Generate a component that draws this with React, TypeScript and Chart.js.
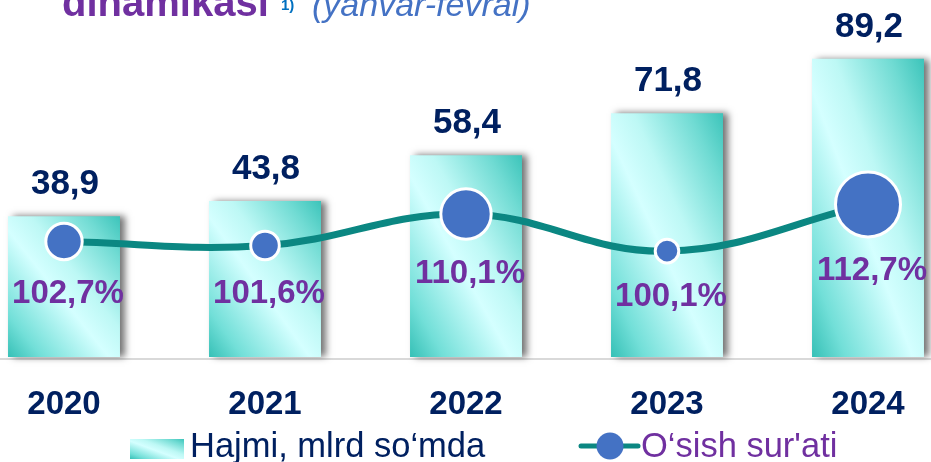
import React, { useEffect, useRef } from 'react';
import { Chart, registerables } from 'chart.js';

Chart.register(...registerables);

// ---- data ----
const years = ['2020', '2021', '2022', '2023', '2024'];
const volume = [38.9, 43.8, 58.4, 71.8, 89.2];
const growth = [102.7, 101.6, 110.1, 100.1, 112.7];
const legendLabels = ['Hajmi, mlrd so‘mda', 'O‘sish sur\'ati'];
const titleMain = 'dinamikasi';
const titleNote = '1)';
const titleSub = '(yanvar-fevral)';

const fmt = (v: number) => v.toFixed(1).replace('.', ',');

const FONT = '"Liberation Sans", Arial, Helvetica, sans-serif';
const NAVY = '#002060';
const PURPLE = '#7030A0';
const TEAL = '#0B8782';
const BLUE = '#4472C4';

const Y1_MIN = -6.04;
const Y1_MAX = 101.6;
const Y2_MIN = 71.5;
const Y2_MAX = 162.5;

function barGradient(ctx: CanvasRenderingContext2D, left: number, top: number, w: number, h: number) {
  const cx = left + w / 2;
  const cy = top + h / 2;
  const d = (w * h) / (h * h + w * w);
  const vx = h * d;
  const vy = -w * d;
  const g = ctx.createLinearGradient(cx - vx, cy - vy, cx + vx, cy + vy);
  g.addColorStop(0, '#36C0B6');
  g.addColorStop(0.15, '#72DFD8');
  g.addColorStop(0.45, '#D4FFFF');
  g.addColorStop(0.6, '#BDF8F5');
  g.addColorStop(0.85, '#70DBD3');
  g.addColorStop(1, '#3CC4BA');
  return g;
}

const overlay = {
  id: 'overlay',
  beforeDatasetsDraw(chart: any) {
    const ctx = chart.ctx as CanvasRenderingContext2D;
    const b = chart.chartArea.bottom;
    ctx.save();
    ctx.strokeStyle = '#D9D9D9';
    ctx.lineWidth = 2;
    ctx.beginPath();
    ctx.moveTo(0, b + 2);
    ctx.lineTo(chart.width, b + 2);
    ctx.stroke();
    ctx.restore();
  },
  beforeDatasetDraw(chart: any, args: any) {
    if (args.meta.type === 'bar') {
      const ctx = chart.ctx as CanvasRenderingContext2D;
      ctx.save();
      ctx.shadowColor = 'rgba(0,0,0,0.55)';
      ctx.shadowBlur = 7;
      ctx.shadowOffsetX = 5;
      ctx.shadowOffsetY = 0;
    }
  },
  afterDatasetDraw(chart: any, args: any) {
    if (args.meta.type === 'bar') chart.ctx.restore();
  },
  afterDraw(chart: any) {
    const ctx = chart.ctx as CanvasRenderingContext2D;
    const barMeta = chart.getDatasetMeta(1);
    const lineMeta = chart.getDatasetMeta(0);
    const xs = chart.scales.x;
    ctx.save();
    ctx.textAlign = 'center';
    ctx.textBaseline = 'alphabetic';

    // values above bars
    ctx.fillStyle = NAVY;
    ctx.font = `bold 35px ${FONT}`;
    barMeta.data.forEach((el: any, i: number) => {
      ctx.fillText(fmt(volume[i]), el.x + 1, el.y - 22);
    });

    // growth labels below points
    ctx.fillStyle = PURPLE;
    ctx.font = `bold 33px ${FONT}`;
    lineMeta.data.forEach((el: any, i: number) => {
      const r = (el.options.radius || 0) + 1.5;
      ctx.fillText(fmt(growth[i]) + '%', el.x + 4, el.y + r + 42);
    });

    // year labels
    ctx.fillStyle = NAVY;
    ctx.font = `bold 33px ${FONT}`;
    years.forEach((y, i) => {
      ctx.fillText(y, xs.getPixelForValue(i), 414);
    });

    // title (cut off at top)
    ctx.textAlign = 'left';
    ctx.fillStyle = PURPLE;
    ctx.font = `bold 40px ${FONT}`;
    ctx.fillText(titleMain, 62, 16);
    ctx.fillStyle = '#0070C0';
    ctx.font = `bold 15px ${FONT}`;
    ctx.fillText(titleNote, 281, 10);
    ctx.fillStyle = BLUE;
    ctx.font = `italic 34px ${FONT}`;
    ctx.fillText(titleSub, 312, 16);

    // legend
    ctx.fillStyle = barGradient(ctx, 130, 439, 54, 20);
    ctx.fillRect(130, 439, 54, 20);
    ctx.fillStyle = NAVY;
    ctx.font = `34.5px ${FONT}`;
    ctx.fillText(legendLabels[0], 190, 457);

    ctx.strokeStyle = TEAL;
    ctx.lineWidth = 5;
    ctx.lineCap = 'round';
    ctx.beginPath();
    ctx.moveTo(581, 446);
    ctx.lineTo(638, 446);
    ctx.stroke();
    ctx.fillStyle = BLUE;
    ctx.beginPath();
    ctx.arc(610, 446, 13.5, 0, Math.PI * 2);
    ctx.fill();
    ctx.fillStyle = PURPLE;
    ctx.font = `34.5px ${FONT}`;
    ctx.fillText(legendLabels[1], 641, 457);

    ctx.restore();
  },
};

export default function App() {
  const ref = useRef<HTMLCanvasElement | null>(null);

  useEffect(() => {
    if (!ref.current) return;
    const chart = new Chart(ref.current, {
      type: 'bar',
      data: {
        labels: years,
        datasets: [
          {
            type: 'line',
            label: legendLabels[1],
            data: growth,
            yAxisID: 'y2',
            order: 1,
            borderColor: TEAL,
            borderWidth: 7,
            tension: 0.4,
            pointRadius: [18.2, 14.3, 25.2, 11.8, 32.5],
            pointBackgroundColor: BLUE,
            pointBorderColor: '#FFFFFF',
            pointBorderWidth: 3,
            clip: false,
          } as any,
          {
            type: 'bar',
            label: legendLabels[0],
            data: volume,
            yAxisID: 'y',
            order: 2,
            base: Y1_MIN,
            barPercentage: 0.557,
            categoryPercentage: 1,
            borderWidth: 0,
            clip: false,
            backgroundColor: (c: any) => {
              const ch = c.chart;
              if (!ch.chartArea || c.type !== 'data') return '#7FE3DC';
              const xs = ch.scales.x;
              const ys = ch.scales.y;
              const cx = xs.getPixelForValue(c.dataIndex);
              const w = (xs.getPixelForValue(1) - xs.getPixelForValue(0)) * 0.557;
              const top = ys.getPixelForValue(c.raw);
              const bottom = ys.getPixelForValue(Y1_MIN);
              return barGradient(ch.ctx, cx - w / 2, top, w, bottom - top);
            },
          } as any,
        ],
      },
      options: {
        animation: false,
        responsive: false,
        layout: { autoPadding: false, padding: { top: 20, bottom: 105, left: 64, right: 63 } },
        plugins: {
          legend: { display: false },
          title: { display: false },
          tooltip: { enabled: false },
        },
        scales: {
          x: { display: false, offset: false },
          y: { display: false, min: Y1_MIN, max: Y1_MAX },
          y2: { display: false, min: Y2_MIN, max: Y2_MAX, position: 'right' },
        },
      },
      plugins: [overlay],
    });
    return () => chart.destroy();
  }, []);

  return (
    <div style={{ position: 'fixed', left: 0, top: 0, width: 931, height: 462, background: '#fff' }}>
      <canvas ref={ref} width={931} height={462} />
    </div>
  );
}
